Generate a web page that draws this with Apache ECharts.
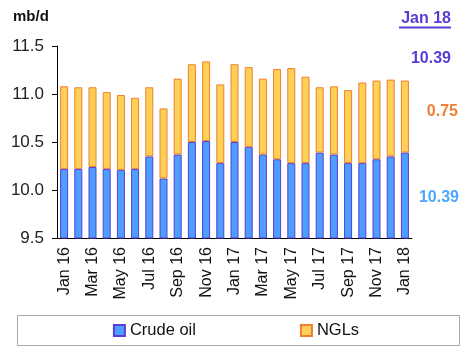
<!DOCTYPE html>
<html><head><meta charset="utf-8">
<script src="https://cdn.jsdelivr.net/npm/echarts@6/dist/echarts.min.js"></script>
<style>html,body{margin:0;padding:0;background:#fff}#c{width:472px;height:355px}</style>
</head><body><div id="c"></div>
<script>
const categories = ['Jan 16','Feb 16','Mar 16','Apr 16','May 16','Jun 16','Jul 16','Aug 16','Sep 16','Oct 16','Nov 16','Dec 16',
  'Jan 17','Feb 17','Mar 17','Apr 17','May 17','Jun 17','Jul 17','Aug 17','Sep 17','Oct 17','Nov 17','Dec 17','Jan 18'];
const crudeOil = [10.22,10.22,10.24,10.22,10.21,10.22,10.35,10.12,10.37,10.50,10.51,10.28,
  10.50,10.45,10.37,10.32,10.28,10.28,10.39,10.37,10.28,10.28,10.32,10.35,10.39];
const ngls = [0.86,0.85,0.83,0.80,0.78,0.74,0.72,0.73,0.79,0.81,0.83,0.82,
  0.81,0.83,0.79,0.94,0.99,0.90,0.68,0.71,0.76,0.84,0.82,0.80,0.75];
const yTicks = {min: 9.5, max: 11.5, interval: 0.5};
const unitLabel = 'mb/d';
const latestLabel = 'Jan 18';
const latestTotal = '10.39';
const latestNgl = '0.75';
const latestCrude = '10.39';

const FONT = 'Liberation Sans, Arial, sans-serif';
const chart = echarts.init(document.getElementById('c'));
chart.setOption({
  animation: false,
  textStyle: {fontFamily: FONT},
  grid: {left: 57, right: 60, top: 46, bottom: 117},
  xAxis: {
    type: 'category', data: categories,
    axisLine: {lineStyle: {color: '#000', width: 1}},
    axisTick: {interval: 1, length: 5, lineStyle: {color: '#000'}},
    axisLabel: {interval: 1, rotate: 90, fontSize: 16, color: '#111', margin: 9, fontFamily: FONT}
  },
  yAxis: {
    type: 'value', min: yTicks.min, max: yTicks.max, interval: yTicks.interval,
    axisLine: {show: true, lineStyle: {color: '#000'}},
    axisTick: {show: true, length: 5, lineStyle: {color: '#000'}},
    splitLine: {show: false},
    axisLabel: {fontSize: 17, color: '#222', margin: 13, fontFamily: FONT,
      formatter: v => v.toFixed(1)}
  },
  legend: {
    bottom: 11, left: 'center', itemWidth: 11, itemHeight: 11, itemGap: 104,
    textStyle: {fontSize: 16.5, color: '#111', fontFamily: FONT},
    data: [{name: 'Crude oil', icon: 'rect'}, {name: 'NGLs', icon: 'rect'}]
  },
  series: [
    {name: 'Crude oil', type: 'bar', stack: 'a', data: crudeOil, barWidth: 8,
      itemStyle: {color: '#4D9FFF', borderColor: '#5A3BD6', borderWidth: 1}},
    {name: 'NGLs', type: 'bar', stack: 'a', data: ngls, barWidth: 8,
      itemStyle: {color: '#FFD056', borderColor: '#EE7F33', borderWidth: 1}}
  ],
  graphic: [
    {type: 'rect', shape: {x: 17.5, y: 315.5, width: 442, height: 30}, style: {fill: 'none', stroke: '#aaa', lineWidth: 1}, z: -1},
    {type: 'text', left: 13, top: 9, style: {text: unitLabel, font: 'bold 15px ' + FONT, fill: '#111'}},
    {type: 'text', right: 21, top: 11, style: {text: latestLabel, font: 'bold 16px ' + FONT, fill: '#5A3BD6'}},
    {type: 'rect', shape: {x: 399, y: 26.5, width: 52, height: 2}, style: {fill: '#5A3BD6'}},
    {type: 'text', right: 21, top: 51, style: {text: latestTotal, font: 'bold 16px ' + FONT, fill: '#5A3BD6'}},
    {type: 'text', right: 14, top: 104, style: {text: latestNgl, font: 'bold 16px ' + FONT, fill: '#EE7F33'}},
    {type: 'text', right: 13, top: 190, style: {text: latestCrude, font: 'bold 16px ' + FONT, fill: '#4DA6FF'}}
  ]
});
</script></body></html>
